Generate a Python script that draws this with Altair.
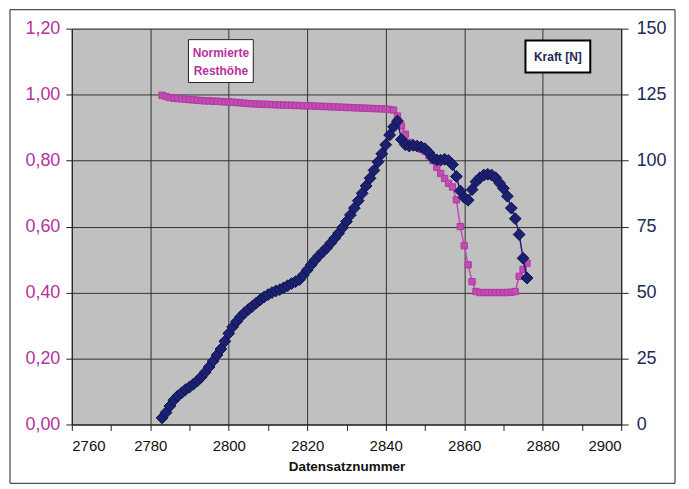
import altair as alt
import pandas as pd

# Record numbers (Datensatznummer)
datensatz = list(range(2783, 2877))

# Normierte Resthöhe (left axis)
resthoehe = [
    0.998, 0.994, 0.991, 0.989, 0.988, 0.987, 0.986, 0.985, 0.984, 0.983,
    0.982, 0.981, 0.981, 0.980, 0.980, 0.979, 0.978, 0.978, 0.977, 0.976,
    0.975, 0.974, 0.973, 0.972, 0.972, 0.971, 0.971, 0.970, 0.970, 0.969,
    0.969, 0.968, 0.968, 0.968, 0.967, 0.967, 0.966, 0.966, 0.966, 0.965,
    0.965, 0.964, 0.964, 0.963, 0.963, 0.962, 0.962, 0.961, 0.961, 0.960,
    0.960, 0.959, 0.959, 0.958, 0.958, 0.957, 0.957, 0.956, 0.955, 0.953,
    0.935, 0.905, 0.880, 0.855, 0.845, 0.840, 0.835, 0.828, 0.815, 0.800,
    0.780, 0.761, 0.746, 0.731, 0.720, 0.681, 0.600, 0.542, 0.484, 0.433,
    0.403, 0.400, 0.400, 0.400, 0.400, 0.400, 0.400, 0.400, 0.400, 0.401,
    0.403, 0.449, 0.470, 0.489,
]

# Kraft [N] (right axis)
kraft = [
    2.5, 4.5, 7.0, 9.2, 10.8, 12.0, 13.2, 14.2, 15.3, 16.5,
    18.0, 19.8, 21.8, 24.0, 26.3, 28.6, 31.5, 34.5, 37.0, 39.0,
    40.8, 42.3, 43.6, 44.8, 46.0, 47.2, 48.3, 49.2, 50.0, 50.6,
    51.1, 51.8, 52.6, 53.4, 54.1, 54.9, 56.6, 58.5, 60.5, 62.3,
    64.0, 65.5, 67.0, 68.8, 70.6, 72.5, 74.6, 76.9, 79.4, 82.0,
    84.8, 87.6, 90.4, 93.3, 96.3, 99.5, 102.6, 106.0, 109.7, 112.8,
    115.0, 108.0, 106.0, 105.5, 105.8, 105.5, 105.2, 104.5, 103.0, 101.0,
    100.3, 100.2, 100.5, 100.0, 98.5, 94.0, 88.5, 86.0, 85.0, 89.0,
    92.0, 93.5, 94.5, 94.8, 94.5, 93.5, 91.5, 89.5, 86.5, 82.0,
    78.0, 72.0, 63.0, 55.5,
]

x_ticks = [2760, 2770, 2780, 2790, 2800, 2810, 2820, 2830, 2840, 2850,
           2860, 2870, 2880, 2890, 2900]
left_ticks = [0.0, 0.2, 0.4, 0.6, 0.8, 1.0, 1.2]
right_ticks = [0, 25, 50, 75, 100, 125, 150]

df = pd.DataFrame({"Datensatznummer": datensatz,
                   "Resthoehe": resthoehe,
                   "Kraft": kraft})

FONT = "Liberation Sans"
MAGENTA = "#c24cb4"
MAGENTA_TXT = "#b5329c"
NAVY = "#1b2170"
NAVY_TXT = "#1c2a55"

x_enc = alt.X(
    "Datensatznummer:Q",
    scale=alt.Scale(domain=[2760, 2900], nice=False, zero=False),
    axis=alt.Axis(
        values=x_ticks, format="d", title="Datensatznummer",
        labelExpr="datum.value % 20 === 0 ? datum.label : ''",
        gridOpacity={"condition": {"test": "datum.value % 20 === 0", "value": 1}, "value": 0},
        grid=True, gridColor="#333333", gridWidth=1,
        tickSize=6, tickColor="#222222", domainColor="#222222",
        labelFont=FONT, labelFontSize=15, labelColor="#111111", labelPadding=8,
        titleFont=FONT, titleFontSize=13.5, titleFontWeight="bold",
        titleColor="#111111", titlePadding=6,
    ),
)

y_left = alt.Y(
    "Resthoehe:Q",
    scale=alt.Scale(domain=[0, 1.2], nice=False),
    axis=alt.Axis(
        values=left_ticks, title=None, orient="left",
        labelExpr="replace(format(datum.value, '.2f'), '.', ',')",
        grid=True, gridColor="#333333", gridWidth=1,
        tickSize=6, tickColor="#222222", domainColor="#222222",
        labelFont=FONT, labelFontSize=18, labelColor=MAGENTA_TXT, labelPadding=6,
    ),
)

y_right = alt.Y(
    "Kraft:Q",
    scale=alt.Scale(domain=[0, 150], nice=False),
    axis=alt.Axis(
        values=right_ticks, title=None, orient="right", grid=False,
        tickSize=7, tickColor="#222222", domainColor="#222222",
        labelFont=FONT, labelFontSize=18, labelColor=NAVY_TXT, labelPadding=8,
    ),
)

base = alt.Chart(df)

mag_line = base.mark_line(color=MAGENTA, strokeWidth=1.5).encode(x=x_enc, y=y_left)
mag_pts = base.mark_point(shape="square", size=40, filled=True, color=MAGENTA,
                          stroke="#b03aa0", strokeWidth=1, opacity=1).encode(
    x=x_enc, y=y_left)
magenta = alt.layer(mag_line, mag_pts)

nav_line = base.mark_line(color=NAVY, strokeWidth=1.5).encode(x=x_enc, y=y_right)
nav_pts = base.mark_point(shape="diamond", size=140, filled=True, color=NAVY,
                          stroke="#0f1450", strokeWidth=1, opacity=1).encode(
    x=x_enc, y=y_right)
navy = alt.layer(nav_line, nav_pts)

one = alt.Data(values=[{"a": 1}])

box1 = alt.Chart(one).mark_rect(fill="white", stroke="#222222", strokeWidth=1).encode(
    x=alt.value(117), x2=alt.value(182), y=alt.value(11), y2=alt.value(54))
txt1 = alt.Chart(one).mark_text(font=FONT, fontSize=12, fontWeight="bold",
                                color=MAGENTA_TXT, lineHeight=18, baseline="middle").encode(
    x=alt.value(149.5), y=alt.value(24), text=alt.value(["Normierte", "Resthöhe"]))
box2 = alt.Chart(one).mark_rect(fill="white", stroke="#000000", strokeWidth=2).encode(
    x=alt.value(455), x2=alt.value(520), y=alt.value(12), y2=alt.value(44))
txt2 = alt.Chart(one).mark_text(font=FONT, fontSize=12, fontWeight="bold",
                                color=NAVY_TXT, baseline="middle").encode(
    x=alt.value(487.5), y=alt.value(28), text=alt.value("Kraft [N]"))
frame = alt.Chart(one).mark_rect(fill=None, stroke="#222222", strokeWidth=1).encode(
    x=alt.value(-62), x2=alt.value(605), y=alt.value(-19), y2=alt.value(456))

chart = alt.layer(
    frame, magenta, navy, box1, txt1, box2, txt2
).resolve_scale(y="independent").properties(
    width=551, height=397,
    padding={"left": 64, "top": 20, "right": 60, "bottom": 62},
    autosize=alt.AutoSizeParams(type="none"),
    background="white",
).configure_view(
    fill="#c0c0c0", stroke="#8a8a8a", strokeWidth=1,
)

chart.save("out.html", embed_options={"renderer": "svg", "actions": False})
